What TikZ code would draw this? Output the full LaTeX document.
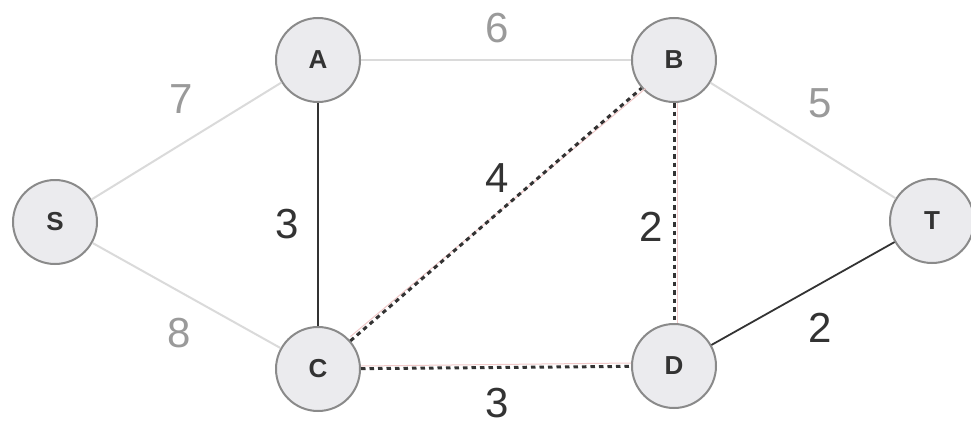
\documentclass[tikz,border=0pt]{standalone}
\usepackage{fontspec}
\setmainfont{Liberation Sans}
\begin{document}
\begin{tikzpicture}[x=1pt,y=-1pt,
  vert/.style={circle,draw=nodeedge,line width=2pt,fill=nodefill,minimum size=84pt,inner sep=0pt,font=\fontsize{26}{26}\selectfont\bfseries,text=textdark},
  lightedge/.style={draw=edgelight,line width=2pt},
  darkedge/.style={draw=textdark,line width=1.8pt},
  redunder/.style={draw=redline,line width=1pt},
  dashedge/.style={draw=textdark,line width=3pt,dash pattern=on 4.5pt off 4pt},
  lbl/.style={inner sep=0pt,font=\fontsize{42}{42}\selectfont},
  lbllight/.style={lbl,text=textlight},
  lbldark/.style={lbl,text=textdark}]
\definecolor{nodefill}{HTML}{EBEBEE}
\definecolor{nodeedge}{HTML}{8A8A8A}
\definecolor{edgelight}{HTML}{DADADA}
\definecolor{textdark}{HTML}{333333}
\definecolor{textlight}{HTML}{9A9A9A}
\definecolor{redline}{HTML}{F0C8C8}
\useasboundingbox (0,0) rectangle (971,423);
\node[vert] (S) at (55,222) {S};
\node[vert] (A) at (318,60) {A};
\node[vert] (B) at (674,60) {B};
\node[vert] (T) at (932,221) {T};
\node[vert] (C) at (318,369) {C};
\node[vert] (D) at (674,366) {D};
\path[lightedge] (S) -- (A);
\path[lightedge] (S) -- (C);
\path[lightedge] (A) -- (B);
\path[lightedge] (B) -- (T);
\path[darkedge] (A) -- (C);
\path[darkedge] (D) -- (T);
\path[redunder] ([xshift=3pt]B.south) -- ([xshift=3pt]D.north);
\path[redunder] ([yshift=3pt]C.east) -- ([yshift=3pt]D.west);
\path[redunder] ([shift={(2pt,2pt)}]C.north east) -- ([shift={(2pt,2pt)}]B.south west);
\path[dashedge] (B) -- (D);
\path[dashedge] (C) -- (D);
\path[dashedge] (C) -- (B);
\node[lbllight] (l7) at (181,99) {7};
\node[lbllight] (l8) at (179,333) {8};
\node[lbllight] (l6) at (497,28) {6};
\node[lbllight] (l5) at (820,103) {5};
\node[lbldark] (l3a) at (287,224) {3};
\node[lbldark] (l4) at (497,178) {4};
\node[lbldark] (l2a) at (651,227) {2};
\node[lbldark] (l2b) at (820,328) {2};
\node[lbldark] (l3b) at (497,403) {3};
\end{tikzpicture}
\end{document}
